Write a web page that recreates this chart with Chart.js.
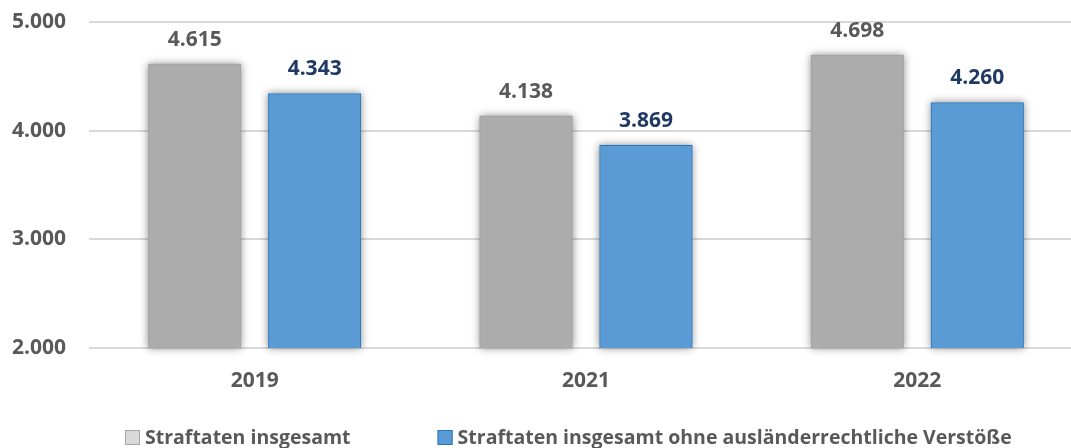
<!DOCTYPE html>
<html><head><meta charset="utf-8">
<script src="https://cdn.jsdelivr.net/npm/chart.js@4.4.0/dist/chart.umd.min.js"></script>
<style>html,body{margin:0;padding:0;overflow:hidden;background:#fff}#wrap{width:1095px;height:448px;position:relative}</style>
</head><body><div id="wrap"><canvas id="c"></canvas></div>
<script>
const categories = ['2019', '2021', '2022'];
const seriesNames = ['Straftaten insgesamt', 'Straftaten insgesamt ohne ausländerrechtliche Verstöße'];
const totalValues = [4615, 4138, 4698];
const withoutForeignLawValues = [4343, 3869, 4260];
const yTickValues = [2000, 3000, 4000, 5000];

const FONT = '"Open Sans", "DejaVu Sans", sans-serif';
const barColors = ['#adacad', '#5b9bd5'];
const barBorders = ['#a3a2a3', '#2e75b6'];
const legendFill = ['#d9d9d9', '#5b9bd5'];
const legendStroke = ['#a6a6a6', '#2e75b6'];
const labelColors = ['#595959', '#1f3864'];

function fmt(v) {
  return String(Math.round(v)).replace(/\B(?=(\d{3})+(?!\d))/g, '.');
}

const shadowPlugin = {
  id: 'barShadow',
  beforeDatasetsDraw(chart) {
    const ctx = chart.ctx;
    const area = chart.chartArea;
    chart.data.datasets.forEach((ds, i) => {
      chart.getDatasetMeta(i).data.forEach(bar => {
        const p = bar.getProps(['x', 'y', 'base', 'width'], true);
        const bottom = Math.min(p.base, area.bottom);
        ctx.save();
        ctx.shadowColor = 'rgba(0,0,0,0.45)';
        ctx.shadowBlur = 8;
        ctx.fillStyle = barColors[i];
        ctx.fillRect(p.x - p.width / 2, p.y, p.width, bottom - p.y);
        ctx.restore();
      });
    });
  }
};

const valueLabelPlugin = {
  id: 'valueLabels',
  afterDatasetsDraw(chart) {
    const ctx = chart.ctx;
    chart.data.datasets.forEach((ds, i) => {
      const meta = chart.getDatasetMeta(i);
      meta.data.forEach((bar, j) => {
        ctx.save();
        ctx.font = 'bold 21px ' + FONT;
        ctx.fillStyle = labelColors[i];
        ctx.textAlign = 'center';
        ctx.textBaseline = 'alphabetic';
        ctx.fillText(fmt(ds.data[j]), bar.x, bar.y - 18);
        ctx.restore();
      });
    });
  }
};

const customLegendPlugin = {
  id: 'customLegend',
  afterDraw(chart) {
    const ctx = chart.ctx;
    const area = chart.chartArea;
    ctx.save();
    ctx.font = 'bold 19.5px ' + FONT;
    const box = 15, gapBox = 5, itemGap = 87;
    const widths = seriesNames.map(t => ctx.measureText(t).width);
    let x = area.left + 36;
    const baseline = 444;
    seriesNames.forEach((t, i) => {
      ctx.fillStyle = legendFill[i];
      ctx.fillRect(x, baseline - 14, box, 15);
      ctx.strokeStyle = legendStroke[i];
      ctx.lineWidth = 1;
      ctx.strokeRect(x + 0.5, baseline - 13.5, box - 1, 14);
      ctx.fillStyle = '#595959';
      ctx.textBaseline = 'alphabetic';
      ctx.textAlign = 'left';
      ctx.fillText(t, x + box + gapBox, baseline);
      x += box + gapBox + widths[i] + itemGap;
    });
    ctx.restore();
  }
};

new Chart(document.getElementById('c'), {
  type: 'bar',
  data: {
    labels: categories,
    datasets: [
      { label: seriesNames[0], data: totalValues, backgroundColor: barColors[0], borderColor: barBorders[0], borderWidth: 1, categoryPercentage: 0.724, barPercentage: 0.775 },
      { label: seriesNames[1], data: withoutForeignLawValues, backgroundColor: barColors[1], borderColor: barBorders[1], borderWidth: 1, categoryPercentage: 0.724, barPercentage: 0.775 }
    ]
  },
  options: {
    responsive: true,
    maintainAspectRatio: false,
    animation: false,
    layout: { padding: { left: 12, right: 12, top: 22, bottom: 60 } },
    plugins: { legend: { display: false }, tooltip: { enabled: false } },
    scales: {
      x: {
        grid: { display: false, drawTicks: false },
        border: { display: false },
        ticks: { font: { family: FONT, size: 21, weight: 'bold' }, color: '#595959', padding: 20 },
        afterFit(scale) { scale.height = 40; }
      },
      y: {
        min: 2000, max: 5000,
        afterBuildTicks(scale) { scale.ticks = yTickValues.map(v => ({ value: v })); },
        grid: { color: '#d9d9d9', lineWidth: 2, drawTicks: false },
        border: { display: false },
        ticks: { font: { family: FONT, size: 21, weight: 'bold' }, color: '#595959', padding: 0, crossAlign: 'far', callback: v => fmt(v) },
        afterFit(scale) { scale.width = 77; }
      }
    }
  },
  plugins: [shadowPlugin, valueLabelPlugin, customLegendPlugin]
});
</script>
</body></html>
